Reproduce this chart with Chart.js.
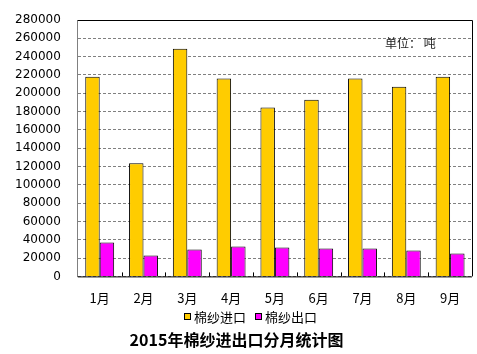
<!DOCTYPE html>
<html lang="zh">
  <head>
    <meta charset="UTF-8" />
    <title>2015年棉纱进出口分月统计图</title>
    <script src="https://cdn.jsdelivr.net/npm/chart.js"></script>
    <style>
      body {
        margin: 0;
        background: #fff;
      }
      .wrap {
        width: 477px;
        height: 354px;
      }
    </style>
  </head>
  <body>
    <div class="wrap"><canvas id="cotton"></canvas></div>

    <script>
      // months and values (tonnes)
      var months = ["1月", "2月", "3月", "4月", "5月", "6月", "7月", "8月", "9月"];
      var importTons = [218000, 123500, 248500, 216000, 184500, 193000, 216000, 207000, 218000];
      var exportTons = [36900, 22800, 29300, 32600, 31500, 30400, 30400, 28200, 25000];
      var yTicks = [0, 20000, 40000, 60000, 80000, 100000, 120000, 140000, 160000, 180000, 200000, 220000, 240000, 260000, 280000];

      var cjk = '"Noto Sans CJK SC", "DejaVu Sans", sans-serif';

      // frame on top/right, inside ticks on the x axis, unit label,
      // plus the legend and the title under the chart (excel style)
      var framePlugin = {
        id: "frame",
        afterDraw: function (chart) {
          var ctx = chart.ctx;
          var a = chart.chartArea;
          var x = chart.scales.x;
          ctx.save();
          ctx.strokeStyle = "#000";
          ctx.lineWidth = 1;
          ctx.beginPath();
          ctx.moveTo(a.left, a.top + 0.5);
          ctx.lineTo(a.right + 0.5, a.top + 0.5);
          ctx.lineTo(a.right + 0.5, a.bottom);
          ctx.stroke();
          ctx.beginPath();
          ctx.moveTo(a.left, a.bottom + 0.5);
          ctx.lineTo(a.right, a.bottom + 0.5);
          var half = (x.getPixelForValue(1) - x.getPixelForValue(0)) / 2;
          for (var i = 1; i < months.length; i++) {
            var px = Math.round(x.getPixelForValue(i) - half) + 0.5;
            ctx.moveTo(px, a.bottom);
            ctx.lineTo(px, a.bottom - 4);
          }
          ctx.stroke();

          ctx.fillStyle = "#222";
          ctx.font = "12px " + cjk;
          ctx.textAlign = "left";
          ctx.textBaseline = "middle";
          ctx.fillText("单位： 吨", a.right - 87, a.top + 23);

          // legend
          var lx = 184;
          var ly = 317;
          ctx.font = "13px " + cjk;
          chart.data.datasets.forEach(function (ds) {
            ctx.fillStyle = ds.backgroundColor;
            ctx.fillRect(lx + 0.5, ly - 3.5, 6, 6);
            ctx.strokeStyle = "#000";
            ctx.strokeRect(lx + 0.5, ly - 3.5, 6, 6);
            ctx.fillStyle = "#000";
            ctx.fillText(ds.label, lx + 10, ly);
            lx += 10 + ctx.measureText(ds.label).width + 9;
          });

          // title
          ctx.font = "bold 16px " + cjk;
          ctx.textAlign = "center";
          ctx.fillText("2015年棉纱进出口分月统计图", chart.width / 2 - 2, 340);
          ctx.restore();
        },
      };

      new Chart(document.getElementById("cotton").getContext("2d"), {
        type: "bar",
        data: {
          labels: months,
          datasets: [
            {
              label: "棉纱进口",
              data: importTons,
              backgroundColor: "#FFCC00",
              borderColor: "#000",
              borderWidth: 1,
            },
            {
              label: "棉纱出口",
              data: exportTons,
              backgroundColor: "#FF00FF",
              borderColor: "#000",
              borderWidth: 1,
            },
          ],
        },
        options: {
          responsive: true,
          maintainAspectRatio: false,
          animation: false,
          layout: { padding: { left: -2, right: 5, top: 12, bottom: 34 } },
          datasets: {
            bar: { barPercentage: 1, categoryPercentage: 0.66 },
          },
          scales: {
            x: {
              grid: { display: false, drawTicks: false },
              border: { display: false },
              ticks: {
                color: "#000",
                padding: 14,
                font: { family: cjk, size: 13 },
              },
            },
            y: {
              min: 0,
              max: 280000,
              afterBuildTicks: function (axis) {
                axis.ticks = yTicks.map(function (v) {
                  return { value: v };
                });
              },
              grid: {
                color: "#808080",
                drawTicks: false,
              },
              border: { color: "#808080", dash: [3, 2], display: true },
              ticks: {
                autoSkip: false,
                color: "#000",
                padding: 17,
                font: { family: '"DejaVu Sans", sans-serif', size: 12, lineHeight: 0.5 },
                callback: function (v) {
                  return String(v);
                },
              },
            },
          },
          plugins: {
            legend: { display: false },
            title: { display: false },
            tooltip: { enabled: false },
          },
        },
        plugins: [framePlugin],
      });
    </script>
  </body>
</html>
